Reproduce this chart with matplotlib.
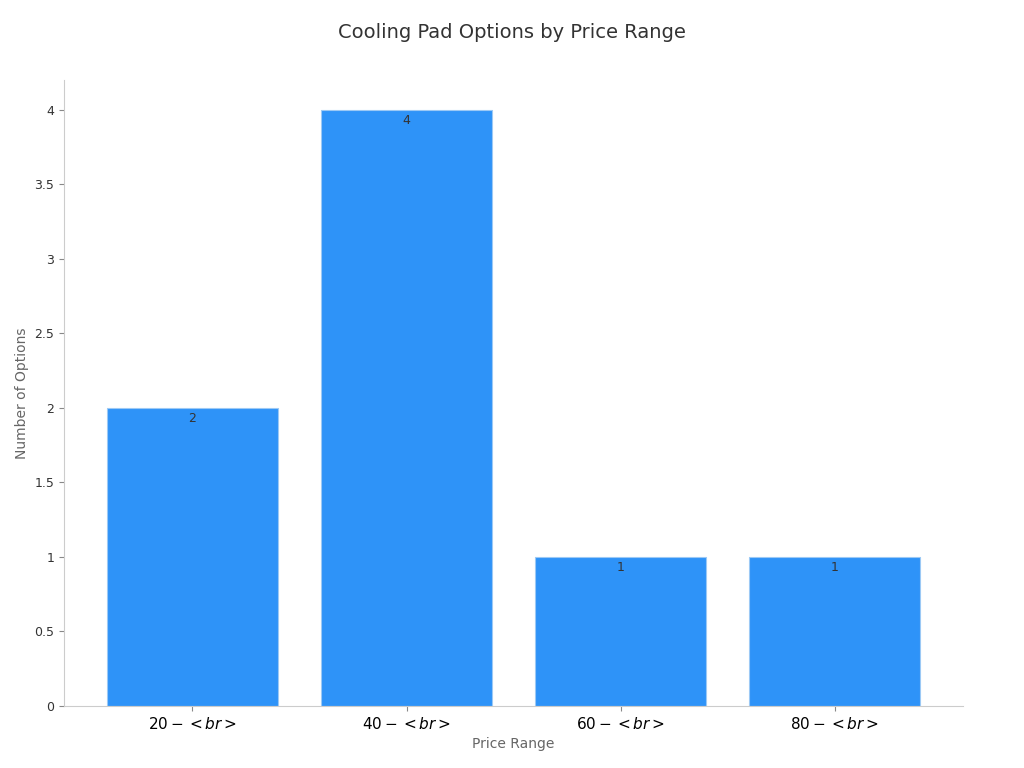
import matplotlib.pyplot as plt

categories = ['$20-<br>$', '$40-<br>$', '$60-<br>$', '$80-<br>$']
counts = [2, 4, 1, 1]

fig = plt.figure(figsize=(10.24, 7.68), dpi=100)
ax = fig.add_axes([0.0625, 0.081, 0.878, 0.815])

bars = ax.bar(range(len(categories)), counts, width=0.8, color='#2E93F8', edgecolor='#9cc9f5', linewidth=0.8)
for b, v in zip(bars, counts):
    ax.text(b.get_x() + b.get_width() / 2, v - 0.03, str(v), ha='center', va='top', fontsize=9, color='#333333')

ax.set_xticks(range(len(categories)))
ax.set_xticklabels(categories, fontsize=11)
ax.set_xlim(-0.6, 3.6)
ax.set_ylim(0, 4.2)
ax.set_yticks([0, 0.5, 1, 1.5, 2, 2.5, 3, 3.5, 4])
ax.set_yticklabels(['0', '0.5', '1', '1.5', '2', '2.5', '3', '3.5', '4'])
ax.tick_params(axis='y', labelsize=9, colors='#333333')
ax.tick_params(axis='both', color='#888888')
for s in ['top', 'right']:
    ax.spines[s].set_visible(False)
for s in ['left', 'bottom']:
    ax.spines[s].set_color('#cccccc')

ax.set_xlabel('Price Range', fontsize=10, color='#666666')
ax.set_ylabel('Number of Options', fontsize=10, color='#666666')
fig.suptitle('Cooling Pad Options by Price Range', fontsize=14, color='#333333', y=0.97)

fig.savefig('out.png', dpi=100)
